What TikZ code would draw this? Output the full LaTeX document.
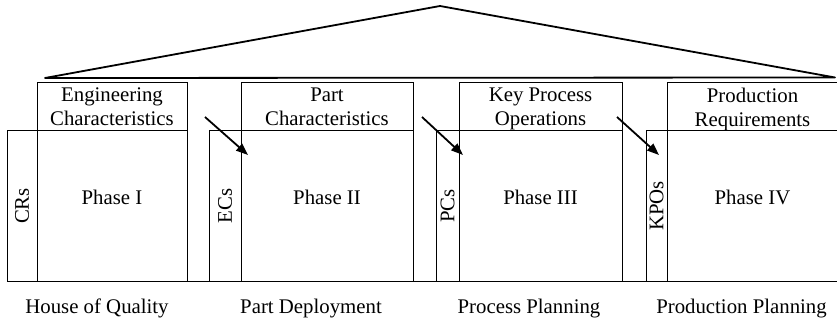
\documentclass[tikz,border=0pt]{standalone}
\usepackage{fontspec}
\setmainfont{Liberation Serif}
\usetikzlibrary{arrows.meta}
\newcommand\qfdfont{\fontsize{20.8}{24}\selectfont}
\begin{document}
\begin{tikzpicture}[x=1pt,y=-1pt,
  frame/.style={draw, line width=1pt, inner sep=0pt, outer sep=0pt, font=\qfdfont},
  header/.style={frame, align=center, minimum height=48pt, text depth=0pt},
  matrixbox/.style={frame, minimum height=150pt, text height=14pt, text depth=16pt},
  inputcol/.style={frame, rotate=90, minimum width=150pt},
  phasename/.style={anchor=base, inner sep=0pt, font=\qfdfont},
  flow/.style={line width=1.8pt, -{Triangle[length=12pt,width=9pt]}},
  roof/.style={line width=1.8pt, line join=round}
]
\useasboundingbox (0,0) rectangle (837,320);

% roof over the four phases
\coordinate (roofL) at (45,78);
\coordinate (roofA) at (440,6);
\coordinate (roofR) at (835,77.5);
\draw[roof] (roofL) -- (roofA) -- (roofR) -- cycle;

% Phase I
\node[header, minimum width=150pt] (h1) at (112,107) {Engineering\\Characteristics};
\node[matrixbox, minimum width=150pt] (p1) at (112,206) {Phase I};
\node[inputcol, minimum height=30pt] (c1) at (22,206) {CRs};

% Phase II
\node[header, minimum width=172pt] (h2) at (327,107) {Part\\Characteristics};
\node[matrixbox, minimum width=172pt] (p2) at (327,206) {Phase II};
\node[inputcol, minimum height=32pt] (c2) at (225,206) {ECs};

% Phase III
\node[header, minimum width=163pt] (h3) at (540.5,107) {Key Process\\Operations};
\node[matrixbox, minimum width=163pt] (p3) at (540.5,206) {Phase III};
\node[inputcol, minimum height=23pt] (c3) at (447.5,206) {PCs};

% Phase IV
\node[header, minimum width=171pt] (h4) at (752.5,107) {Production\\Requirements};
\node[matrixbox, minimum width=171pt] (p4) at (752.5,206) {Phase IV};
\node[inputcol, minimum height=21pt] (c4) at (656.5,206) {KPOs};

% common base line
\draw[line width=1pt] (c1.north west) -- (p4.south east);

% outputs of one phase feed the next
\coordinate (s1) at (205,117);
\coordinate (e1) at (248,155);
\coordinate (s2) at (422,117);
\coordinate (e2) at (463,155);
\coordinate (s3) at (617,117);
\coordinate (e3) at (659,155);
\draw[flow] (s1) -- (e1);
\draw[flow] (s2) -- (e2);
\draw[flow] (s3) -- (e3);

% phase names
\node[phasename] (n1) at (97,313) {House of Quality};
\node[phasename] (n2) at (311,313) {Part Deployment};
\node[phasename] (n3) at (529,313) {Process Planning};
\node[phasename] (n4) at (741.5,313) {Production Planning};
\end{tikzpicture}
\end{document}
